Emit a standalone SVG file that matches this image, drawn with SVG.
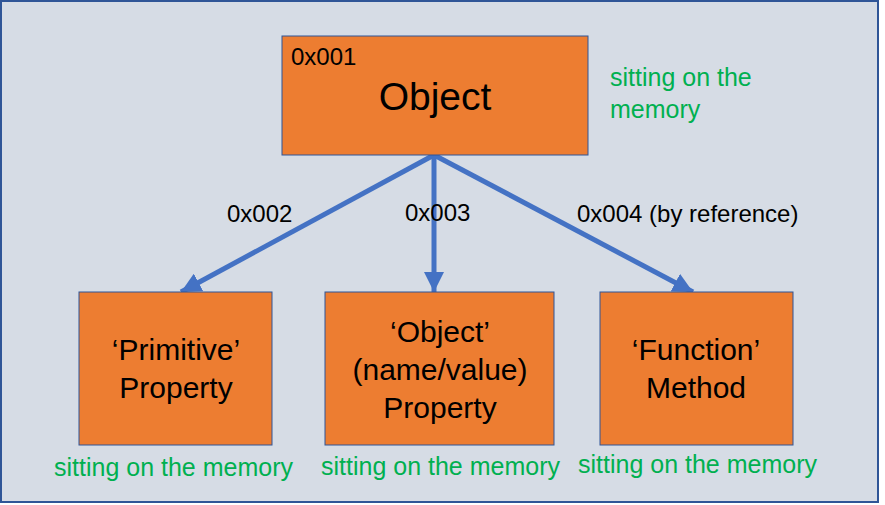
<svg xmlns="http://www.w3.org/2000/svg" width="885" height="505" viewBox="0 0 885 505">
<style>
text{font-family:"Liberation Sans",Arial,sans-serif;fill:#000}
.box{fill:#ED7D31;stroke:#2F5597;stroke-width:1}
.lbl{font-size:30px;text-anchor:middle}
.note{font-size:25px;fill:#00B050}
.addr{font-size:24px}
.conn{stroke:#4472C4;stroke-width:5;fill:none;marker-end:url(#ah)}
</style>
<defs>
<marker id="ah" markerUnits="userSpaceOnUse" markerWidth="22" markerHeight="20" refX="20" refY="10" orient="auto" viewBox="0 0 22 20">
<path d="M0,0 L20,10 L0,20 Z" fill="#4472C4"/>
</marker>
</defs>
<rect x="1" y="1" width="877" height="501" fill="#D6DCE5" stroke="#2F5597" stroke-width="2"/>
<g id="connectors">
<line class="conn" x1="434" y1="155" x2="181" y2="292"/>
<line class="conn" x1="434" y1="155" x2="434" y2="292"/>
<line class="conn" x1="434" y1="155" x2="693" y2="292"/>
<text class="addr" x="227" y="222">0x002</text>
<text class="addr" x="405" y="221">0x003</text>
<text class="addr" x="577" y="222">0x004 (by reference)</text>
</g>
<g id="object">
<rect class="box" x="282" y="36" width="306" height="119"/>
<text class="addr" x="291" y="65">0x001</text>
<text x="435" y="110" font-size="39" text-anchor="middle">Object</text>
<text class="note" x="610" y="86">sitting on the</text>
<text class="note" x="610" y="118">memory</text>
</g>
<g id="primitive">
<rect class="box" x="79" y="292" width="193" height="153"/>
<text class="lbl" x="176" y="360">‘Primitive’</text>
<text class="lbl" x="176" y="398">Property</text>
<text class="note" x="54" y="476">sitting on the memory</text>
</g>
<g id="objprop">
<rect class="box" x="325" y="292" width="229" height="153"/>
<text class="lbl" x="440" y="342">‘Object’</text>
<text class="lbl" x="440" y="380">(name/value)</text>
<text class="lbl" x="440" y="418">Property</text>
<text class="note" x="321" y="475">sitting on the memory</text>
</g>
<g id="function">
<rect class="box" x="600" y="292" width="193" height="153"/>
<text class="lbl" x="696" y="360">‘Function’</text>
<text class="lbl" x="696" y="398">Method</text>
<text class="note" x="578" y="473">sitting on the memory</text>
</g>
</svg>
